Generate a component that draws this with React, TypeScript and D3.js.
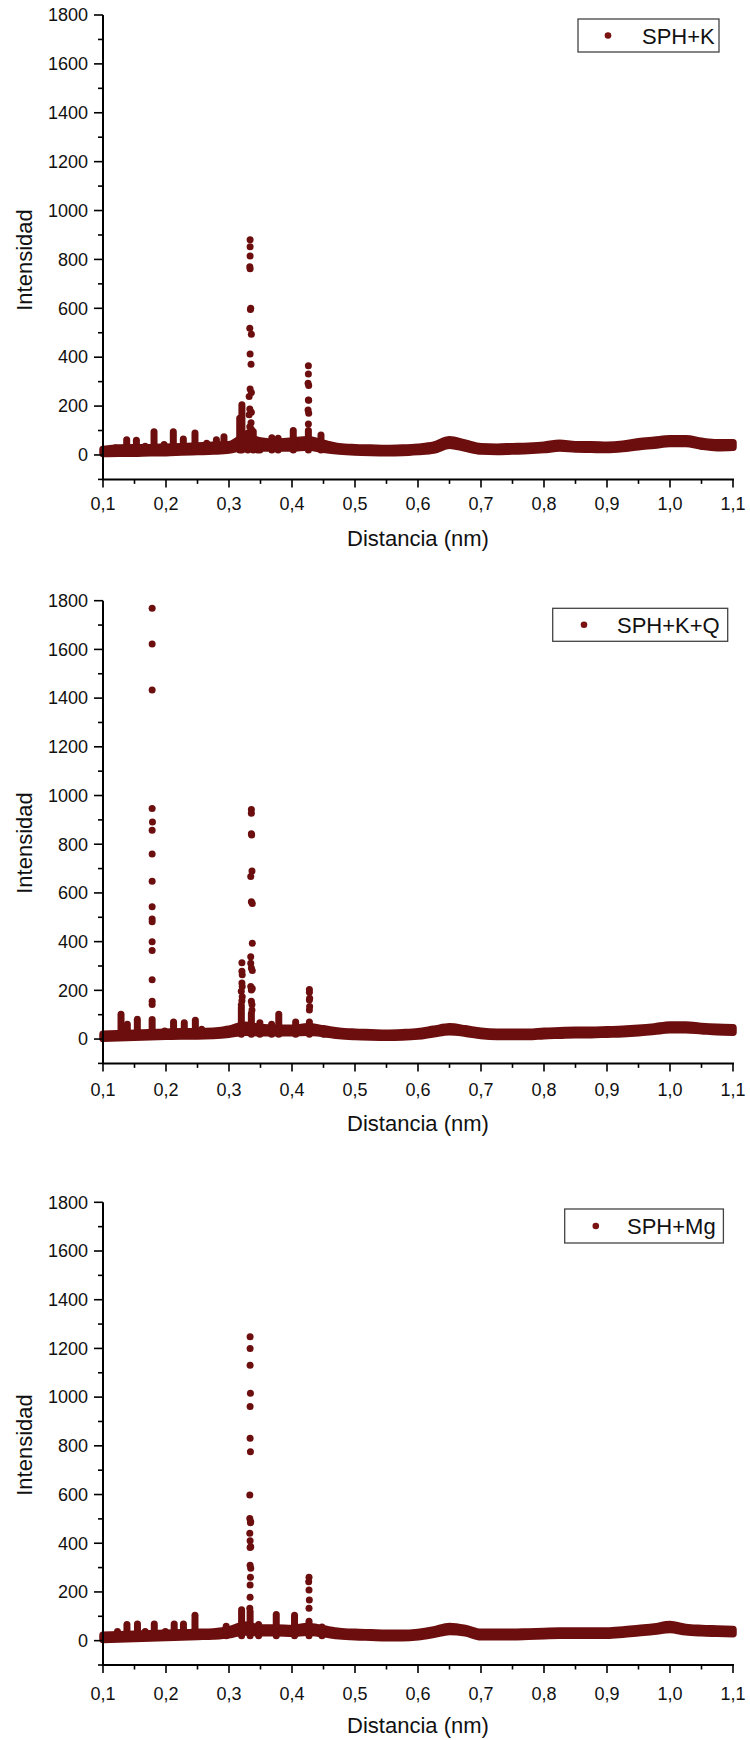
import React from 'react';
import * as d3 from 'd3';

// ---------- DATA ----------
const bandX = [0.1, 0.125, 0.15, 0.175, 0.2, 0.225, 0.25, 0.275, 0.3, 0.325, 0.35, 0.375, 0.4, 0.425, 0.45, 0.475, 0.5, 0.525, 0.55, 0.575, 0.6, 0.625, 0.65, 0.675, 0.7, 0.725, 0.75, 0.775, 0.8, 0.825, 0.85, 0.875, 0.9, 0.925, 0.95, 0.975, 1.0, 1.025, 1.05, 1.075, 1.1];

// SPH+K
const kLow = [6, 7, 7, 9, 9, 12, 14, 16, 20, 33, 28, 28, 28, 33, 23, 16, 12, 10, 9, 10, 14, 20, 40, 28, 16, 14, 16, 18, 22, 28, 24, 23, 22, 26, 34, 40, 47, 47, 36, 30, 32];
const kHigh = [22, 28, 30, 30, 32, 34, 37, 40, 42, 72, 57, 52, 57, 62, 47, 34, 30, 28, 26, 28, 32, 40, 62, 48, 34, 32, 34, 36, 40, 48, 42, 42, 40, 44, 54, 60, 66, 66, 56, 50, 50];
const kSpikeX = [0.12, 0.1376, 0.153, 0.167, 0.181, 0.197, 0.2116, 0.2275, 0.246, 0.2646, 0.28, 0.292, 0.317, 0.3205, 0.33, 0.3385, 0.345, 0.349, 0.368, 0.378, 0.402, 0.426, 0.446, 0.465];
const kSpikeTop = [30, 62, 60, 36, 95, 43, 95, 65, 90, 48, 62, 74, 150, 205, 90, 95, 60, 50, 70, 68, 100, 100, 82, 38];
const kDotX = [0.3335, 0.3335, 0.3335, 0.333, 0.3335, 0.3345, 0.334, 0.333, 0.3355, 0.3335, 0.335, 0.3335, 0.3355, 0.332, 0.333, 0.3355, 0.332, 0.335, 0.333, 0.3355, 0.426, 0.426, 0.4255, 0.4265, 0.426, 0.4265, 0.4255, 0.4265, 0.426];
const kDotY = [880, 852, 814, 770, 762, 600, 595, 518, 494, 413, 371, 270, 256, 239, 188, 175, 164, 132, 115, 105, 365, 331, 293, 284, 225, 224, 184, 171, 127];

// SPH+K+Q
const qLow = [3, 5, 7, 9, 11, 13, 13, 15, 20, 28, 26, 26, 26, 28, 23, 14, 10, 8, 7, 8, 12, 22, 30, 24, 14, 10, 10, 10, 14, 16, 18, 18, 20, 22, 26, 32, 38, 38, 34, 30, 28];
const qHigh = [20, 22, 24, 26, 28, 30, 30, 32, 40, 57, 47, 44, 44, 50, 42, 32, 28, 26, 24, 26, 30, 40, 50, 42, 32, 28, 28, 28, 32, 34, 36, 36, 38, 40, 44, 50, 58, 58, 52, 48, 46];
const qSpikeX = [0.1286, 0.1386, 0.1545, 0.178, 0.198, 0.212, 0.229, 0.2466, 0.2566, 0.296, 0.3196, 0.3355, 0.349, 0.3676, 0.379, 0.4058, 0.4276, 0.45];
const qSpikeTop = [102, 61, 81, 80, 33, 70, 67, 77, 40, 40, 130, 105, 67, 61, 102, 70, 70, 40];
const qDotX = [0.178, 0.178, 0.178, 0.178, 0.1785, 0.178, 0.178, 0.178, 0.178, 0.178, 0.178, 0.178, 0.178, 0.178, 0.178, 0.178,
  0.3205, 0.3205, 0.321, 0.3205, 0.321, 0.3195, 0.321, 0.3205, 0.3195,
  0.3355, 0.3355, 0.3355, 0.336, 0.3365, 0.3345, 0.3355, 0.337, 0.337, 0.3345, 0.3345, 0.3355, 0.337, 0.3345, 0.337, 0.3355, 0.3355, 0.3365, 0.3365,
  0.4276, 0.4276, 0.428, 0.4276, 0.428, 0.4276];
const qDotY = [1769, 1622, 1433, 947, 891, 857, 760, 648, 543, 493, 482, 400, 364, 244, 155, 142,
  313, 278, 264, 230, 216, 196, 174, 157, 140,
  943, 927, 843, 838, 690, 667, 564, 557, 393, 338, 311, 292, 281, 216, 208, 201, 155, 142, 119,
  203, 192, 168, 160, 134, 119];

// SPH+Mg
const mLow = [5, 7, 9, 11, 13, 15, 17, 19, 24, 36, 32, 32, 30, 34, 28, 20, 16, 14, 12, 12, 16, 26, 38, 32, 16, 16, 16, 18, 20, 22, 22, 22, 22, 26, 32, 38, 46, 36, 32, 30, 28];
const mHigh = [22, 24, 26, 28, 30, 32, 34, 36, 44, 64, 52, 52, 50, 58, 48, 38, 34, 32, 30, 30, 34, 44, 58, 50, 34, 34, 34, 36, 38, 40, 40, 40, 40, 44, 50, 56, 66, 54, 50, 48, 46];
const mSpikeX = [0.123, 0.138, 0.1547, 0.167, 0.1814, 0.199, 0.213, 0.2277, 0.246, 0.2955, 0.32, 0.3335, 0.347, 0.375, 0.404, 0.427, 0.4476];
const mSpikeTop = [38, 66, 68, 38, 68, 38, 68, 68, 104, 59, 127, 120, 66, 107, 104, 80, 56];
const mDotX = [0.3335, 0.3335, 0.3335, 0.334, 0.3335, 0.3335, 0.334, 0.333, 0.333, 0.3345, 0.334, 0.333, 0.3335, 0.3345, 0.3335, 0.3335, 0.3345, 0.334, 0.3335, 0.3335, 0.333,
  0.427, 0.4265, 0.427, 0.4275, 0.427];
const mDotY = [1248, 1200, 1131, 1016, 961, 831, 776, 598, 502, 488, 484, 441, 410, 386, 383, 310, 297, 260, 228, 178, 133,
  260, 242, 208, 167, 133];

const xTicks = [0.1, 0.2, 0.3, 0.4, 0.5, 0.6, 0.7, 0.8, 0.9, 1.0, 1.1];
const xTickLabels = ['0,1', '0,2', '0,3', '0,4', '0,5', '0,6', '0,7', '0,8', '0,9', '1,0', '1,1'];
const xMinorTicks = [0.15, 0.25, 0.35, 0.45, 0.55, 0.65, 0.75, 0.85, 0.95, 1.05];
const yTicks = [0, 200, 400, 600, 800, 1000, 1200, 1400, 1600, 1800];
const yMinorTicks = [-100, 100, 300, 500, 700, 900, 1100, 1300, 1500, 1700];
const seriesNames = ['SPH+K', 'SPH+K+Q', 'SPH+Mg'];

// ---------- LAYOUT ----------
const COLOR = '#6c0e0e';
const FONT = "'Liberation Sans', Arial, Helvetica, sans-serif";
const X0 = 103, X1 = 733;

const panels = [
  { name: seriesNames[0], low: kLow, high: kHigh, sx: kSpikeX, st: kSpikeTop, dx: kDotX, dy: kDotY,
    top: 15, bottom: 479.4, tickOff: 31, titleOff: 67, yTitle: 260,
    legend: { x: 578, y: 19, w: 141, h: 33, mx: 608, tx: 642 } },
  { name: seriesNames[1], low: qLow, high: qHigh, sx: qSpikeX, st: qSpikeTop, dx: qDotX, dy: qDotY,
    top: 600.7, bottom: 1063.4, tickOff: 33, titleOff: 68, yTitle: 843,
    legend: { x: 552.7, y: 608.3, w: 175, h: 33, mx: 584, tx: 617 } },
  { name: seriesNames[2], low: mLow, high: mHigh, sx: mSpikeX, st: mSpikeTop, dx: mDotX, dy: mDotY,
    top: 1202.3, bottom: 1665, tickOff: 35, titleOff: 68, yTitle: 1445,
    legend: { x: 564.7, y: 1209, w: 158.7, h: 34, mx: 595.8, tx: 627 } },
];

function Panel({ p }: { p: any }) {
  const x = d3.scaleLinear().domain([0.1, 1.1]).range([X0, X1]);
  const y = d3.scaleLinear().domain([-100, 1800]).range([p.bottom, p.top]);
  const band = bandX.map((bx, i) => ({ x: bx, lo: p.low[i], hi: p.high[i] }));
  const area = d3.area<any>().x((d) => x(d.x)).y0((d) => y(d.lo)).y1((d) => y(d.hi)).curve(d3.curveMonotoneX);
  const L = p.legend;
  return (
    <g>
      {/* data */}
      <path d={area(band) || ''} fill={COLOR} stroke={COLOR} strokeWidth={7.5} strokeLinejoin="round" />
      {p.sx.map((sx: number, i: number) => (
        <line key={'s' + i} x1={x(sx)} x2={x(sx)} y1={y(20)} y2={y(p.st[i])} stroke={COLOR} strokeWidth={7} strokeLinecap="round" />
      ))}
      {p.dx.map((dx: number, i: number) => (
        <circle key={'d' + i} cx={x(dx)} cy={y(p.dy[i])} r={3.5} fill={COLOR} />
      ))}
      {/* axes */}
      <line x1={X0} x2={X0} y1={y(1800)} y2={y(-100)} stroke="#000" strokeWidth={2} />
      <line x1={X0 - 1} x2={X1 + 1} y1={y(-100)} y2={y(-100)} stroke="#000" strokeWidth={2} />
      {yTicks.map((t) => (
        <g key={'yt' + t}>
          <line x1={X0 - 9} x2={X0} y1={y(t)} y2={y(t)} stroke="#000" strokeWidth={1.6} />
          <text x={88} y={y(t)} dy="0.35em" textAnchor="end" fontSize={18} fontFamily={FONT} fill="#111">{t}</text>
        </g>
      ))}
      {yMinorTicks.map((t) => (
        <line key={'ym' + t} x1={X0 - 5} x2={X0} y1={y(t)} y2={y(t)} stroke="#000" strokeWidth={1.6} />
      ))}
      {xTicks.map((t, i) => (
        <g key={'xt' + i}>
          <line x1={x(t)} x2={x(t)} y1={p.bottom} y2={p.bottom + 8} stroke="#000" strokeWidth={1.6} />
          <text x={x(t)} y={p.bottom + p.tickOff} textAnchor="middle" fontSize={18} fontFamily={FONT} fill="#111">{xTickLabels[i]}</text>
        </g>
      ))}
      {xMinorTicks.map((t, i) => (
        <line key={'xm' + i} x1={x(t)} x2={x(t)} y1={p.bottom} y2={p.bottom + 4.5} stroke="#000" strokeWidth={1.6} />
      ))}
      <text x={(X0 + X1) / 2} y={p.bottom + p.titleOff} textAnchor="middle" fontSize={22} fontFamily={FONT} fill="#111">Distancia (nm)</text>
      <text transform={`translate(31.5,${p.yTitle}) rotate(-90)`} textAnchor="middle" fontSize={22} fontFamily={FONT} fill="#111">Intensidad</text>
      {/* legend */}
      <rect x={L.x} y={L.y} width={L.w} height={L.h} fill="#fff" stroke="#444" strokeWidth={1.3} />
      <circle cx={L.mx} cy={L.y + L.h / 2} r={3.3} fill="#7a1212" />
      <text x={L.tx} y={L.y + L.h / 2 + 8} fontSize={22} fontFamily={FONT} fill="#111">{p.name}</text>
    </g>
  );
}

export default function App() {
  return (
    <svg width={750} height={1740} style={{ position: 'absolute', left: 0, top: 0, background: '#fff' }}>
      <rect width={750} height={1740} fill="#fff" />
      {panels.map((p, i) => <Panel key={i} p={p} />)}
    </svg>
  );
}
